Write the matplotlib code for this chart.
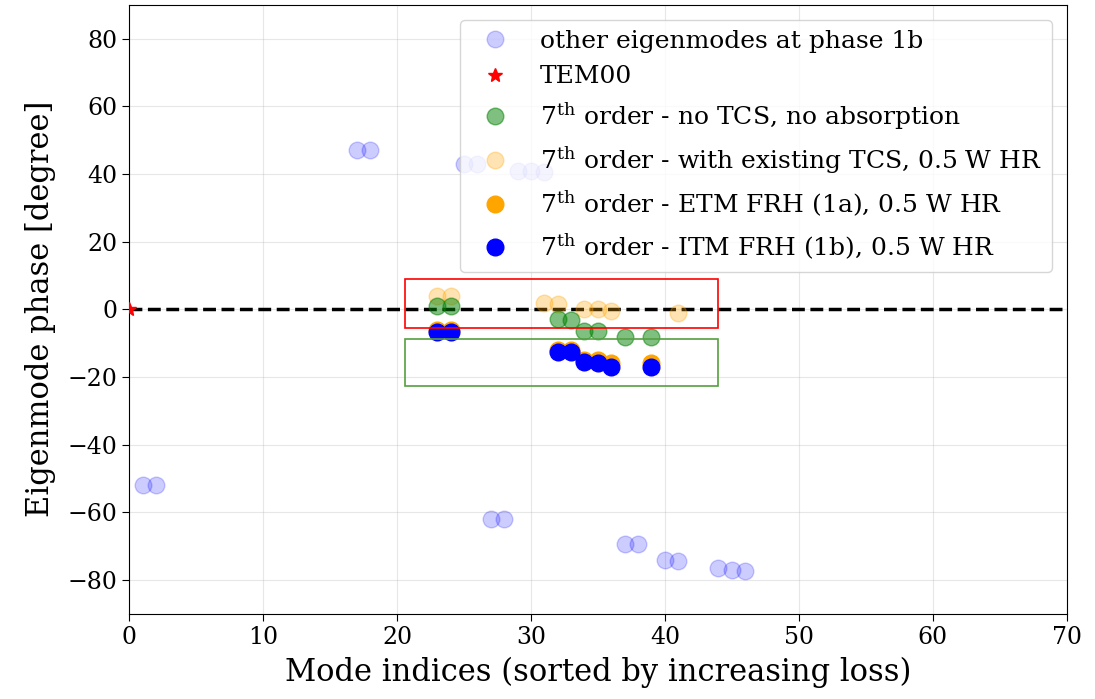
import matplotlib
matplotlib.use("Agg")
import matplotlib.pyplot as plt
from matplotlib.patches import Rectangle

plt.rcParams['font.family'] = 'DejaVu Serif'
plt.rcParams['mathtext.fontset'] = 'dejavuserif'

# other eigenmodes at phase 1b
other_x = [1, 2, 17, 18, 25, 26, 29, 30, 31, 27, 28, 37, 38, 40, 41, 44, 45, 46]
other_y = [-52, -52, 47, 47, 43, 43, 41, 41, 40.5, -62, -62, -69.5, -69.5, -74, -74.5, -76.5, -77, -77.3]

# TEM00
tem_x = [0]
tem_y = [0]

# 7th order - no TCS, no absorption
green_x = [23, 24, 32, 33, 34, 35, 37, 39]
green_y = [1, 1, -3, -3.3, -6.3, -6.5, -8.3, -8.3]

# 7th order - with existing TCS
lorange_x = [23, 24, 31, 32, 34, 35, 36, 41]
lorange_y = [4, 4, 2, 1.5, 0, 0, -0.5, -1]

# 7th order - ETM FRH (1a)
orange_x = [23, 24, 32, 33, 34, 35, 36, 39]
orange_y = [-6, -6, -12, -12, -15, -15, -16, -16]

# 7th order - ITM FRH (1b)
blue_x = [23, 24, 32, 33, 34, 35, 36, 39]
blue_y = [-6.8, -6.8, -12.6, -12.6, -15.6, -16, -17, -17]

fig = plt.figure(figsize=(10.95, 6.99), dpi=100)
ax = fig.add_axes([0.118, 0.122, 0.856, 0.871])

ax.axhline(0, color='black', ls='--', lw=2.5, zorder=2)
ax.plot(other_x, other_y, 'o', color='blue', alpha=0.2, ms=12, label='other eigenmodes at phase 1b', zorder=3)
ax.plot(tem_x, tem_y, '*', color='red', ms=10, label='TEM00', zorder=6)
ax.plot(green_x, green_y, 'o', color='green', alpha=0.5, ms=12,
        label=r'7$^{\mathrm{th}}$ order - no TCS, no absorption', zorder=4)
ax.plot(lorange_x, lorange_y, 'o', color='orange', alpha=0.3, ms=12,
        label=r'7$^{\mathrm{th}}$ order - with existing TCS, 0.5 W HR', zorder=3)
ax.plot(orange_x, orange_y, 'o', color='orange', ms=12,
        label=r'7$^{\mathrm{th}}$ order - ETM FRH (1a), 0.5 W HR', zorder=4)
ax.plot(blue_x, blue_y, 'o', color='blue', ms=12,
        label=r'7$^{\mathrm{th}}$ order - ITM FRH (1b), 0.5 W HR', zorder=5)

ax.add_patch(Rectangle((20.6, -5.4), 23.4, 14.3, fill=False, edgecolor='red', lw=1.2, zorder=6))
ax.add_patch(Rectangle((20.6, -22.8), 23.4, 13.9, fill=False, edgecolor='#55a040', lw=1.2, zorder=6))

ax.set_xlim(0, 70)
ax.set_ylim(-90, 90)
ax.set_yticks([-80, -60, -40, -20, 0, 20, 40, 60, 80])
ax.tick_params(labelsize=17, length=5)
ax.grid(True, alpha=0.3)
ax.set_xlabel('Mode indices (sorted by increasing loss)', fontsize=22, labelpad=6)
ax.set_ylabel('Eigenmode phase [degree]', fontsize=22, labelpad=8)
ax.legend(loc='upper right', fontsize=18, labelspacing=0.5, borderaxespad=0.6)

fig.savefig('out.png', dpi=100)
